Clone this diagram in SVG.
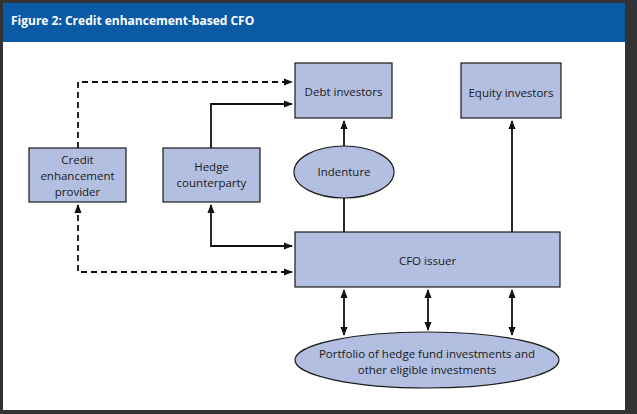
<svg xmlns="http://www.w3.org/2000/svg" width="637" height="414" viewBox="0 0 637 414">
<style>
.box{fill:#b3bfe0;stroke:#1a1a1a;stroke-width:1.2}
.t{font-family:"Open Sans","DejaVu Sans",sans-serif;font-size:11.5px;fill:#1a1a1a;text-anchor:middle}
.c{fill:none;stroke:#111;stroke-width:1.8}
.d{stroke-dasharray:6,4}
</style>
<defs>
<marker id="a" viewBox="0 0 10 10" refX="9" refY="5" markerWidth="5" markerHeight="5" orient="auto-start-reverse"><path d="M0,1 L10,5 L0,9 z" fill="#111"/></marker>
</defs>
<rect width="637" height="414" fill="#333"/>
<rect x="3" y="3" width="622" height="407" fill="#fff"/>
<rect x="3" y="3" width="622" height="39" fill="#0a5aa6"/>
<text x="11" y="25" font-family="'Open Sans','DejaVu Sans',sans-serif" font-weight="bold" font-size="12px" fill="#fff">Figure 2:  Credit enhancement-based CFO</text>
<g id="connectors">
<path class="c d" d="M78,148 V82 H292" marker-end="url(#a)"/>
<path class="c" d="M211,148 V104 H292" marker-end="url(#a)"/>
<path class="c" d="M344,146 V121" marker-end="url(#a)"/>
<path class="c" d="M344,232 V198"/>
<path class="c" d="M512,232 V121" marker-end="url(#a)"/>
<path class="c" d="M211,205 V246 H292" marker-start="url(#a)" marker-end="url(#a)"/>
<path class="c d" d="M78,205 V272 H292" marker-start="url(#a)" marker-end="url(#a)"/>
<path class="c" d="M344,290 V335" marker-start="url(#a)" marker-end="url(#a)"/>
<path class="c" d="M428,290 V330" marker-start="url(#a)" marker-end="url(#a)"/>
<path class="c" d="M512,290 V335" marker-start="url(#a)" marker-end="url(#a)"/>
</g>
<g id="debt"><rect class="box" x="295" y="63" width="97" height="55"/><text class="t" x="343.5" y="96">Debt investors</text></g>
<g id="equity"><rect class="box" x="461" y="63" width="100" height="55"/><text class="t" x="511" y="97">Equity investors</text></g>
<g id="credit"><rect class="box" x="29" y="148" width="97" height="54"/><text class="t" x="77.5" y="164">Credit</text><text class="t" x="77.5" y="180">enhancement</text><text class="t" x="77.5" y="196">provider</text></g>
<g id="hedge"><rect class="box" x="163" y="148" width="97" height="54"/><text class="t" x="211.5" y="171">Hedge</text><text class="t" x="211.5" y="187">counterparty</text></g>
<g id="indenture"><ellipse class="box" cx="344" cy="172" rx="50" ry="26"/><text class="t" x="344" y="176">Indenture</text></g>
<g id="cfo"><rect class="box" x="295" y="232" width="265" height="55"/><text class="t" x="427.5" y="265">CFO issuer</text></g>
<g id="portfolio"><ellipse class="box" cx="427" cy="360" rx="132" ry="28"/><text class="t" x="427" y="358">Portfolio of hedge fund investments and</text><text class="t" x="427" y="374">other eligible investments</text></g>
</svg>
